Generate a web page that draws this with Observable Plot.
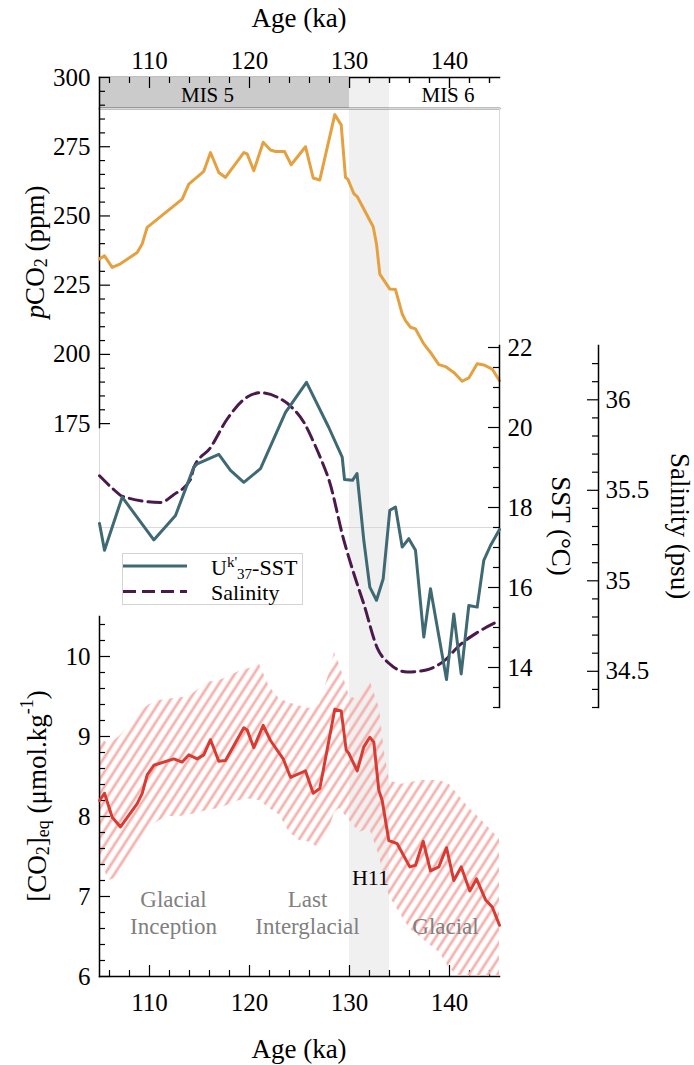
<!DOCTYPE html>
<html><head><meta charset="utf-8">
<script src="https://cdn.jsdelivr.net/npm/d3@7"></script>
<script src="https://cdn.jsdelivr.net/npm/@observablehq/plot@0.6"></script>
<style>
body{margin:0;background:#fff;}
#wrap{position:relative;width:694px;height:1065px;color:#000;overflow:hidden;}
</style></head><body>
<svg width="0" height="0" style="position:absolute">
  <defs>
    <pattern id="hatch" patternUnits="userSpaceOnUse" width="8" height="8" patternTransform="rotate(33)">
      <line x1="4" y1="-2" x2="4" y2="10" stroke="#f4b3af" stroke-width="2.8"/>
    </pattern>
  </defs>
</svg>
<div id="wrap"></div>
<script>
// ---------- data ----------
const pco2Age = [105.0,105.5,106.27,107.1,108.77,109.27,109.77,113.27,113.93,115.43,116.1,116.93,117.6,119.43,119.77,120.43,121.37,122.1,122.6,123.5,124.17,125.6,126.37,127.03,128.53,129.17,129.6,129.83,130.43,130.77,132.37,132.7,133.03,134.03,134.6,135.27,135.6,136.1,136.6,137.43,138.1,138.93,139.6,140.43,141.27,141.93,142.77,143.43,144.27,145.0];
const pco2Val = [234.5,235.6,231.4,232.7,236.8,239.9,245.9,256.1,261.5,266.1,272.9,265.7,263.9,272.9,272.4,266.3,276.6,273.8,273.3,273.3,268.5,275.0,263.7,263.0,286.6,282.9,263.9,263.3,258.1,257.0,246.1,239.9,229.0,223.6,223.4,214.6,212.2,209.8,209.2,203.8,200.7,196.3,195.6,193.5,190.3,191.5,196.6,196.2,194.7,190.5];

const sstAge = [105.0,105.5,107.27,110.43,112.6,114.43,114.77,116.93,118.1,119.43,121.1,123.6,125.7,127.93,129.27,129.5,130.3,130.75,131.43,132.03,132.7,133.37,134.03,134.6,135.27,135.93,136.6,137.43,138.1,139.7,140.43,141.17,141.93,142.77,143.43,144.1,145.0];
const sstVal = [17.6,16.93,18.26,17.19,17.8,19.01,19.09,19.33,18.93,18.63,18.97,20.38,21.13,20.0,19.26,18.7,18.68,18.85,17.18,16.01,15.68,16.22,17.93,18.01,17.01,17.22,16.93,14.76,15.97,13.7,15.34,13.84,15.55,15.51,16.68,17.05,17.45];

const salAge = [105.0,106.43,107.27,111.1,112.43,114.1,114.43,116.1,117.77,119.77,121.1,122.77,124.1,125.43,126.43,127.43,127.93,129.43,130.43,131.43,132.77,134.1,135.77,137.77,139.43,141.1,142.77,145.0];
const salVal = [35.58,35.504,35.467,35.433,35.476,35.56,35.625,35.736,35.894,36.015,36.039,36.015,35.965,35.876,35.764,35.634,35.56,35.225,35.04,34.872,34.63,34.537,34.496,34.509,34.556,34.649,34.714,34.78];

const co2Age = [105.0,105.5,106.27,107.1,108.77,109.27,109.77,110.43,112.43,113.27,113.93,114.77,115.43,116.1,116.93,117.6,119.43,119.77,120.43,121.37,122.1,123.37,124.1,125.6,126.37,127.03,128.53,129.17,129.67,129.93,130.77,131.43,132.03,132.43,132.93,133.27,133.93,134.77,136.03,136.6,137.37,138.1,138.93,139.7,140.43,141.17,142.03,142.7,143.6,144.27,145.0];
const co2Val = [8.2,8.29,7.99,7.87,8.16,8.29,8.52,8.64,8.72,8.68,8.77,8.72,8.77,8.96,8.69,8.70,9.11,9.08,8.86,9.14,8.95,8.72,8.49,8.57,8.29,8.35,9.34,9.32,8.83,8.79,8.57,8.87,8.99,8.93,8.33,8.2,7.70,7.66,7.37,7.39,7.69,7.32,7.37,7.61,7.2,7.37,7.07,7.22,6.96,6.87,6.64];

const bandAge  = [105,106,107,108,109,110,111,112,113,114,115,116,117,118,119,120,121,122,123,124,125,126,127,128,128.5,129,130,131,132,133,133.5,134,135,136,137,138,139,140,141,142,143,144,145];
const bandHigh = [8.98,8.9,9.0,9.15,9.3,9.4,9.45,9.47,9.48,9.5,9.6,9.68,9.7,9.75,9.82,9.85,9.9,9.62,9.47,9.42,9.38,9.35,9.4,9.8,10.05,9.9,9.5,9.45,9.72,9.35,8.8,8.45,8.4,8.42,8.45,8.45,8.45,8.4,8.25,8.1,7.98,7.85,7.72];
const bandLow  = [7.45,7.2,7.25,7.45,7.6,7.85,7.95,8.0,8.0,8.02,8.05,8.08,8.1,8.15,8.2,8.22,8.2,8.1,8.02,7.8,7.7,7.68,7.6,7.85,8.05,8.1,7.95,7.8,7.85,7.5,7.2,7.0,6.8,6.6,6.5,6.4,6.3,6.1,6.0,5.9,5.8,5.7,5.6];

const ageMajor = [110,120,130,140];
const ageMinor = [106,108,112,114,116,118,122,124,126,128,132,134,136,138,142,144];
const pco2Major = [175,200,225,250,275,300];
const sstMajor = [14,16,18,20,22];
const salMajor = [34.5,35,35.5,36];
const co2Major = [6,7,8,9,10];

const misBands = [{start:105, end:130}];
const h11Band = [{start:130, end:134}];
const misLabels = [{age:115.8, label:"MIS 5"},{age:139.85, label:"MIS 6"}];
const periodNotes = [
  {age:112.4, val:6.81, label:"Glacial\nInception"},
  {age:125.8, val:6.81, label:"Last\nInterglacial"},
  {age:139.6, val:6.64, label:"Glacial"}
];
const eventNotes = [{age:132.1, val:7.23, label:"H11"}];

// ---------- helpers ----------
const W = 694, H = 1065, XL = 99, XR = 499;
const FONT = "Liberation Serif";
const rows = (a, b) => a.map((v, i) => ({age: v, val: b[i]}));
const range = (a, b, s) => d3.range(Math.round(a / s), Math.round(b / s) + 1).map(k => +(k * s).toFixed(4));
const fmt = d => String(d);
const wrap = document.getElementById("wrap");
function add(el){ el.style.position = "absolute"; el.style.left = "0px"; el.style.top = "0px"; wrap.appendChild(el); }
function layer(top, bottom, extra, right = XR) {
  return Plot.plot(Object.assign({
    width: W, height: H,
    marginLeft: XL, marginRight: W - right, marginTop: top, marginBottom: H - bottom,
    x: {domain: [105, 145], range: [XL, XR], axis: null},
    style: {background: "transparent", overflow: "visible", fontFamily: FONT, color: "#000"}
  }, extra));
}
const MAJ = 11, MIN = 6;
const AX = {tickSize: 0, fontSize: 25, label: null, fontFamily: FONT, tickFormat: fmt, fill: "#000"};

// ---------- frame / x axes (77..976) ----------
const fH = 976 - 77;
add(layer(77, 976, {marks: [
  Plot.rectX(h11Band, {x1: "start", x2: "end", fill: "#f0f0f0"}),
  Plot.ruleX(ageMajor, {insetTop: fH - MAJ, stroke: "#000", strokeWidth: 1.2}),
  Plot.ruleX(ageMinor, {insetTop: fH - MIN, stroke: "#000", strokeWidth: 1.2}),
  Plot.ruleX(ageMajor, {insetBottom: fH - MAJ, stroke: "#000", strokeWidth: 1.2}),
  Plot.ruleX(ageMinor, {insetBottom: fH - MIN, stroke: "#000", strokeWidth: 1.2}),
  Plot.frame({anchor: "bottom", stroke: "#000", strokeWidth: 1.5}),
  Plot.frame({anchor: "top", stroke: "#000", strokeWidth: 1.5}),
  Plot.axisX(ageMajor, {...AX, anchor: "bottom", tickPadding: 17}),
  Plot.axisX(ageMajor, {...AX, anchor: "top", tickPadding: 9})
]}));

// ---------- MIS row (77..108) ----------
add(layer(77, 108, {marks: [
  Plot.rectX(misBands, {x1: "start", x2: "end", fill: "#cbcbcb"}),
  Plot.ruleX(ageMajor, {insetBottom: 31 - MAJ, stroke: "#000", strokeWidth: 1.2}),
  Plot.ruleX(ageMinor, {insetBottom: 31 - MIN, stroke: "#000", strokeWidth: 1.2}),
  Plot.text(misLabels, {x: "age", text: "label", frameAnchor: "middle", dy: 2, fontSize: 21, fill: "#000", fontFamily: FONT}),
  Plot.frame({anchor: "bottom", stroke: "#000", strokeWidth: 1.5})
]}));

// ---------- light box (108..527) ----------
add(layer(108, 527, {marks: [Plot.frame({stroke: "#d9d9d9", strokeWidth: 1})]}));

// ---------- pCO2 (77..427) ----------
add(layer(77, 427, {
  y: {domain: [173.6, 300], axis: null},
  marks: [
    Plot.ruleY(pco2Major, {insetRight: 400 - MAJ, stroke: "#000", strokeWidth: 1.2}),
    Plot.ruleY(range(175, 300, 5).filter(v => v % 25), {insetRight: 400 - MIN, stroke: "#000", strokeWidth: 1.2}),
    Plot.frame({anchor: "left", stroke: "#000", strokeWidth: 1.5}),
    Plot.axisY(pco2Major, {...AX, anchor: "left", tickPadding: 9}),
    Plot.line(rows(pco2Age, pco2Val), {x: "age", y: "val", stroke: "#e5a140", strokeWidth: 3})
  ]
}));

// ---------- [CO2]eq (616..976) ----------
const band = bandAge.map((a, i) => ({age: a, lo: bandLow[i], hi: bandHigh[i]}));
add(layer(616, 976, {
  y: {domain: [6, 10.5], axis: null},
  marks: [
    Plot.areaY(band, {x: "age", y1: "lo", y2: "hi", fill: "url(#hatch)", clip: true}),
    Plot.ruleY(co2Major, {insetRight: 400 - MAJ, stroke: "#000", strokeWidth: 1.2}),
    Plot.ruleY(range(6, 10.4, 0.2).filter(v => Math.abs(v - Math.round(v)) > 1e-6), {insetRight: 400 - MIN, stroke: "#000", strokeWidth: 1.2}),
    Plot.frame({anchor: "left", stroke: "#000", strokeWidth: 1.5}),
    Plot.axisY(co2Major, {...AX, anchor: "left", tickPadding: 9}),
    Plot.line(rows(co2Age, co2Val), {x: "age", y: "val", stroke: "#d93a32", strokeWidth: 3}),
    Plot.text(periodNotes, {x: "age", y: "val", text: "label", fontSize: 23, fill: "#808080", lineHeight: 1.17, fontFamily: FONT}),
    Plot.text(eventNotes, {x: "age", y: "val", text: "label", fontSize: 22, fill: "#000", fontFamily: FONT})
  ]
}));

// ---------- Salinity (345..707), axis at x=598 ----------
const sW = 598 - XL;
add(layer(345, 707, {
  y: {domain: [34.3, 36.3], axis: null},
  marks: [
    Plot.ruleY(salMajor, {insetLeft: sW - MAJ, stroke: "#000", strokeWidth: 1.2}),
    Plot.ruleY(range(34.3, 36.2, 0.1).filter(v => !salMajor.includes(v)), {insetLeft: sW - MIN, stroke: "#000", strokeWidth: 1.2}),
    Plot.frame({anchor: "right", stroke: "#000", strokeWidth: 1.5}),
    Plot.axisY(salMajor, {...AX, anchor: "right", tickPadding: 7}),
    Plot.line(rows(salAge, salVal), {x: "age", y: "val", stroke: "#4a1a4c", strokeWidth: 3, strokeDasharray: "13,6", curve: "monotone-x"})
  ]
}, 598));

// ---------- SST (345..707) ----------
add(layer(345, 707, {
  y: {domain: [13, 22.05], axis: null},
  marks: [
    Plot.ruleY(sstMajor, {insetLeft: 400 - MAJ, stroke: "#000", strokeWidth: 1.2}),
    Plot.ruleY(range(13, 22, 0.5).filter(v => !sstMajor.includes(v)), {insetLeft: 400 - MIN, stroke: "#000", strokeWidth: 1.2}),
    Plot.frame({anchor: "right", stroke: "#000", strokeWidth: 1.5}),
    Plot.axisY(sstMajor, {...AX, anchor: "right", tickPadding: 8}),
    Plot.line(rows(sstAge, sstVal), {x: "age", y: "val", stroke: "#3f6973", strokeWidth: 3})
  ]
}));

// ---------- titles + legend (SVG text) ----------
const ov = d3.create("svg").attr("width", W).attr("height", H)
  .style("position", "absolute").style("left", "0px").style("top", "0px")
  .attr("font-family", FONT).attr("fill", "#000");

function title(cx, cy, rot, parts) {
  const t = ov.append("g").attr("transform", `translate(${cx},${cy}) rotate(${rot})`)
    .append("text").attr("text-anchor", "middle").attr("dominant-baseline", "central").attr("font-size", 27);
  for (const [txt, opt = {}] of parts) {
    const s = t.append("tspan").text(txt);
    if (opt.dy) s.attr("dy", opt.dy);
    if (opt.size) s.attr("font-size", opt.size);
    if (opt.italic) s.attr("font-style", "italic");
  }
}
title(299, 18, 0, [["Age (ka)"]]);
title(299, 1049, 0, [["Age (ka)"]]);
title(35, 252, -90, [["p", {italic: true}], ["CO"], ["2", {size: 18, dy: 6}], [" (ppm)", {dy: -6}]]);
title(37, 796, -90, [["[CO"], ["2", {size: 18, dy: 6}], ["]", {dy: -6}], ["eq", {size: 18, dy: 6}], [" (μmol.kg", {dy: -6}], ["-1", {size: 18, dy: -10}], [")", {dy: 10}]]);
title(561, 526, 90, [["SST (°C)"]]);
title(680, 526, 90, [["Salinity (psu)"]]);

// legend
const lg = ov.append("g");
lg.append("rect").attr("x", 122.5).attr("y", 553.5).attr("width", 180).attr("height", 51)
  .attr("fill", "#fff").attr("stroke", "#d4d4d4").attr("stroke-width", 1);
lg.append("line").attr("x1", 123).attr("x2", 187).attr("y1", 566).attr("y2", 566)
  .attr("stroke", "#3f6973").attr("stroke-width", 3);
lg.append("line").attr("x1", 123).attr("x2", 187).attr("y1", 591.5).attr("y2", 591.5)
  .attr("stroke", "#4a1a4c").attr("stroke-width", 3).attr("stroke-dasharray", "13,6");
const l1 = lg.append("text").attr("x", 211).attr("y", 575).attr("font-size", 22);
l1.append("tspan").text("U");
l1.append("tspan").text("k'").attr("font-size", 15).attr("dy", -8);
l1.append("tspan").text("37").attr("font-size", 15).attr("dy", 12);
l1.append("tspan").text("-SST").attr("dy", -4);
lg.append("text").attr("x", 211).attr("y", 600).attr("font-size", 22).text("Salinity");

wrap.appendChild(ov.node());
</script>
</body></html>
